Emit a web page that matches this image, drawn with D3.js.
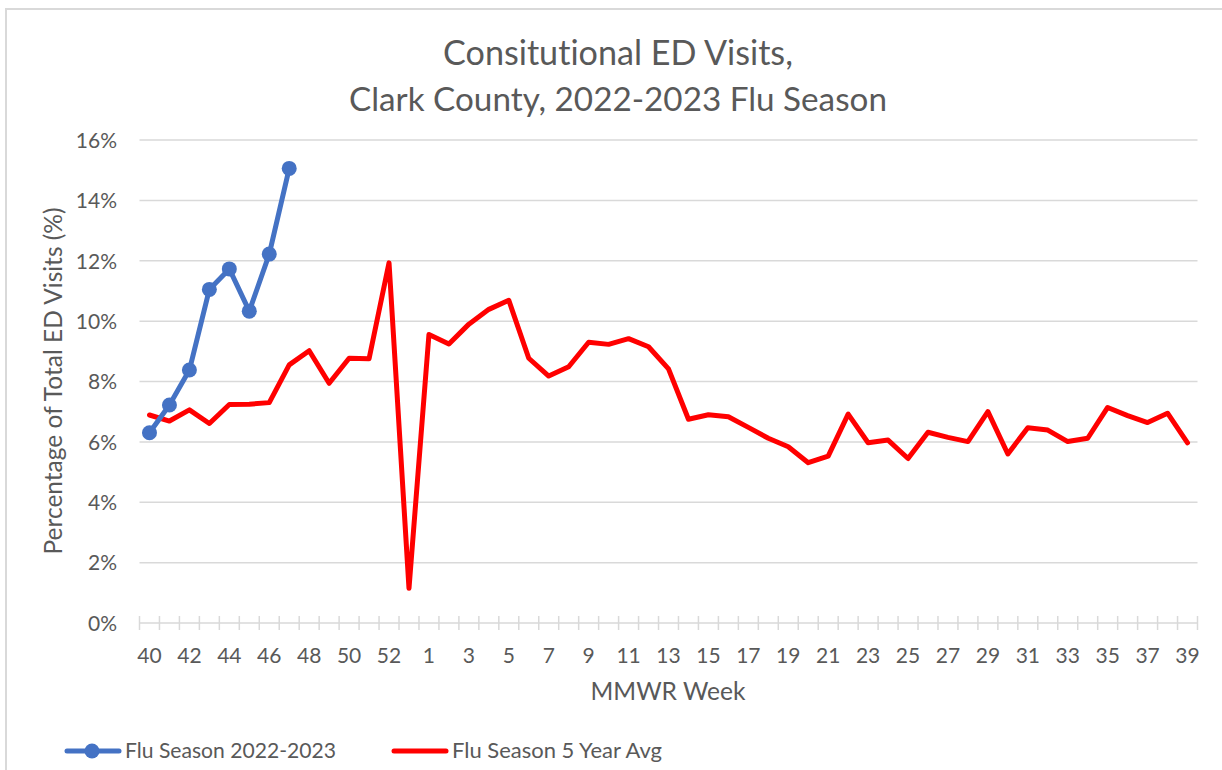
<!DOCTYPE html>
<html>
<head>
<meta charset="utf-8">
<script src="https://cdn.jsdelivr.net/npm/d3@7"></script>
<style>
  html, body { margin: 0; padding: 0; background: #fff; }
  svg { display: block; }
  text { font-family: Lato, "Open Sans", sans-serif; fill: #595959; font-variant-ligatures: none; }
</style>
</head>
<body>
<svg id="chart" width="1222" height="770"></svg>
<script>
// ---- data ----
const weeks = ["40","41","42","43","44","45","46","47","48","49","50","51","52","53",
  "1","2","3","4","5","6","7","8","9","10","11","12","13","14","15","16","17","18","19","20",
  "21","22","23","24","25","26","27","28","29","30","31","32","33","34","35","36","37","38","39"];
const season2022 = [6.30, 7.22, 8.38, 11.05, 11.73, 10.33, 12.22, 15.06];
const fiveYearAvg = [6.89, 6.69, 7.06, 6.61, 7.24, 7.25, 7.30, 8.55, 9.02, 7.94, 8.77, 8.75, 11.93, 1.15,
  9.56, 9.24, 9.90, 10.39, 10.69, 8.77, 8.18, 8.49, 9.30, 9.23, 9.42, 9.15, 8.42, 6.75, 6.90, 6.83, 6.48, 6.12, 5.84, 5.31,
  5.53, 6.92, 5.97, 6.06, 5.45, 6.32, 6.15, 6.01, 7.00, 5.60, 6.47, 6.39, 6.01, 6.12, 7.14, 6.87, 6.64, 6.95, 5.97];
const yTicks = [0, 2, 4, 6, 8, 10, 12, 14, 16];
const titleLines = ["Consitutional ED Visits,", "Clark County, 2022-2023 Flu Season"];
const seriesNames = ["Flu Season 2022-2023", "Flu Season 5 Year Avg"];

// ---- layout ----
const svg = d3.select("#chart");
const pLeft = 139.5, pRight = 1197.5, pTop = 140, pBottom = 623;

const x = d3.scaleBand().domain(weeks).range([pLeft, pRight]).paddingInner(0).paddingOuter(0);
const xc = d => x(d) + x.bandwidth() / 2;
const y = d3.scaleLinear().domain([0, 16]).range([pBottom, pTop]);

// fit text to a target width
function fit(sel, target) {
  const n = sel.node();
  const fs = parseFloat(sel.attr("font-size"));
  const w = n.getComputedTextLength();
  sel.attr("font-size", (fs * target / w).toFixed(2));
}

// chart border
svg.append("rect").attr("x", 6).attr("y", 9).attr("width", 1230).attr("height", 780)
  .attr("fill", "none").attr("stroke", "#d9d9d9").attr("stroke-width", 2);

// title
const tw = [350, 538];
titleLines.forEach((t, i) => {
  const el = svg.append("text").attr("x", 618).attr("y", 65 + i * 46)
    .attr("text-anchor", "middle").attr("font-size", 30).attr("font-weight", 400).text(t);
  fit(el, tw[i]);
});

// gridlines
svg.append("g").selectAll("line").data(yTicks.filter(d => d > 0)).join("line")
  .attr("x1", pLeft).attr("x2", pRight)
  .attr("y1", d => y(d)).attr("y2", d => y(d))
  .attr("stroke", "#d9d9d9").attr("stroke-width", 1.5);

// y axis labels
const yAxis = d3.axisLeft(y).tickValues(yTicks).tickSize(0).tickPadding(0).tickFormat(d => d + "%");
const gy = svg.append("g").attr("transform", `translate(117,0)`).call(yAxis);
gy.select(".domain").remove();
gy.selectAll("text").attr("font-size", 21).attr("font-family", "Lato").attr("fill", "#595959").attr("dy", "0.35em");

// x axis line and ticks
svg.append("line").attr("x1", pLeft).attr("x2", pRight).attr("y1", pBottom).attr("y2", pBottom)
  .attr("stroke", "#d9d9d9").attr("stroke-width", 1.5);
const boundaries = weeks.map(w => x(w)).concat([x(weeks[weeks.length - 1]) + x.bandwidth()]);
svg.append("g").selectAll("line").data(boundaries).join("line")
  .attr("x1", d => d).attr("x2", d => d).attr("y1", pBottom - 7).attr("y2", pBottom + 7)
  .attr("stroke", "#d9d9d9").attr("stroke-width", 1.5);

// x labels (every other)
const xAxis = d3.axisBottom(x).tickValues(weeks.filter((w, i) => i % 2 === 0)).tickSize(0).tickPadding(0);
const gx = svg.append("g").attr("transform", `translate(0,${pBottom})`).call(xAxis);
gx.select(".domain").remove();
gx.selectAll("text").attr("font-size", 21).attr("font-family", "Lato").attr("fill", "#595959")
  .attr("y", 40).attr("dy", 0);

// axis titles
svg.append("text").attr("transform", `translate(62,381) rotate(-90)`)
  .attr("text-anchor", "middle").attr("font-size", 22).text("Percentage of Total ED Visits (%)")
  .call(s => fit(s, 347));
svg.append("text").attr("x", 668).attr("y", 700).attr("text-anchor", "middle")
  .attr("font-size", 22).text("MMWR Week").call(s => fit(s, 155));

// lines
const line = d3.line().x(d => xc(d[0])).y(d => y(d[1]));
const redData = weeks.map((w, i) => [w, fiveYearAvg[i]]);
const blueData = season2022.map((v, i) => [weeks[i], v]);

svg.append("path").datum(redData).attr("d", line).attr("fill", "none")
  .attr("stroke", "#FF0000").attr("stroke-width", 5).attr("stroke-linejoin", "round").attr("stroke-linecap", "round");
svg.append("path").datum(blueData).attr("d", line).attr("fill", "none")
  .attr("stroke", "#4472C4").attr("stroke-width", 5).attr("stroke-linejoin", "round").attr("stroke-linecap", "round");
svg.append("g").selectAll("circle").data(blueData).join("circle")
  .attr("cx", d => xc(d[0])).attr("cy", d => y(d[1])).attr("r", 7.5).attr("fill", "#4472C4");

// legend
const ly = 751;
svg.append("line").attr("x1", 67).attr("x2", 119).attr("y1", ly).attr("y2", ly)
  .attr("stroke", "#4472C4").attr("stroke-width", 5).attr("stroke-linecap", "round");
svg.append("circle").attr("cx", 92).attr("cy", ly).attr("r", 7.5).attr("fill", "#4472C4");
svg.append("text").attr("x", 125).attr("y", ly + 7).attr("font-size", 20).text(seriesNames[0]).call(s => fit(s, 211));
svg.append("line").attr("x1", 394).attr("x2", 446).attr("y1", ly).attr("y2", ly)
  .attr("stroke", "#FF0000").attr("stroke-width", 5).attr("stroke-linecap", "round");
svg.append("text").attr("x", 452).attr("y", ly + 7).attr("font-size", 20).text(seriesNames[1]).call(s => fit(s, 210));
</script>
</body>
</html>
